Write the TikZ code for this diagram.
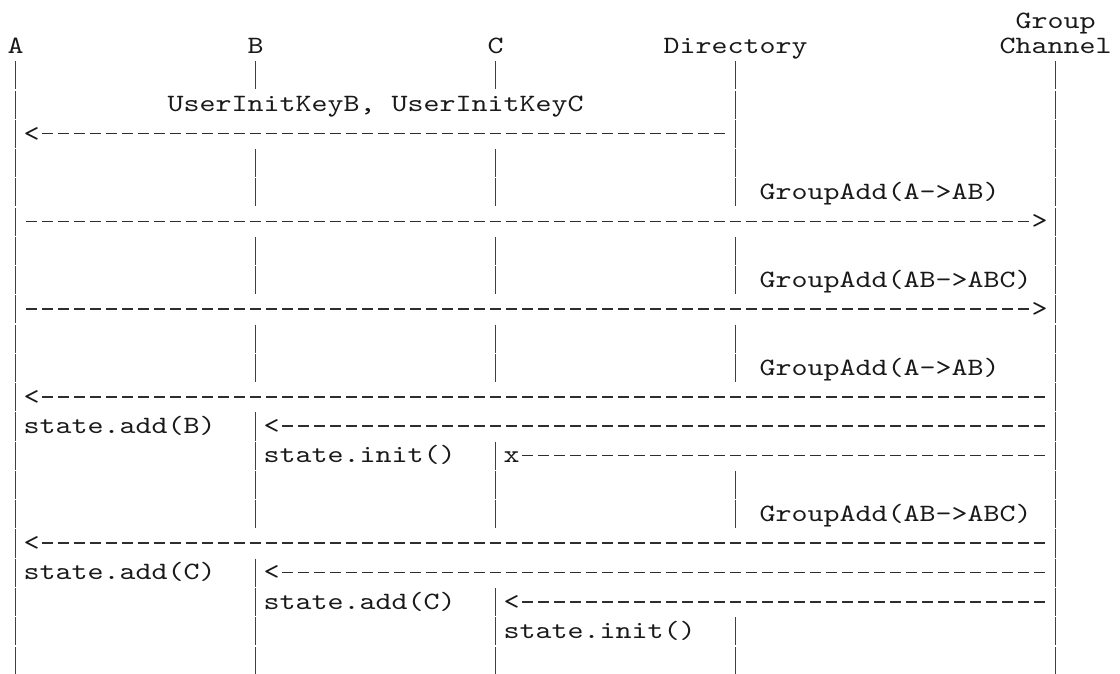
\documentclass[tikz,border=0pt]{standalone}
\usepackage{fontspec}
\newfontfamily\asciifont{lmmono10-regular.otf}[FakeStretch=1.224]
\usetikzlibrary{calc}

% character grid: 16pt per column, 29.26pt per row
\tikzset{
  lbl/.style={inner sep=0pt, outer sep=0pt, anchor=base west,
    font=\asciifont\fontsize{24.9}{29}\selectfont, text=black!90},
  bar/.style={line width=1.5pt, draw=black!75},
  dashrun/.style={line width=1.6pt, draw=black!82, dash pattern=on 10.7pt off 5.3pt},
  msgL/.style={dashrun, shorten <=2.65pt, shorten >=10.65pt},
  msgR/.style={dashrun, shorten <=10.65pt, shorten >=2.65pt},
}
% \cellat{name}{column}{row}{text}
\newcommand\cellat[4]{\node[lbl] (#1) at ({7.7+16*#2},{(#3-1)*29.26+24}) {#4};}
% \msgrow{name}{row}: height of the dashes in a row
\newcommand\msgrow[2]{\coordinate (#1) at (0,{(#2-1)*29.26+16.5});}

\begin{document}
\begin{tikzpicture}[x=1pt,y=-1pt]
\useasboundingbox (0,0) rectangle (1120,673);

% participants
\node[lbl] (grp) at ({7.7+16*63},28.8) {Group};
\cellat{A}{0}{2}{A}
\cellat{B}{15}{2}{B}
\cellat{C}{30}{2}{C}
\cellat{Dir}{41}{2}{Directory}
\cellat{Chan}{62}{2}{Channel}

% lifelines, one segment per text row
\foreach \nd/\rows in {
    A/{3,4,5,6,7,8,9,10,11,12,13,14,15,16,17,18,19,20,21,22,23},
    B/{3,6,7,9,10,12,13,15,16,17,18,20,21,22,23},
    C/{3,6,7,9,10,12,13,16,17,18,21,22,23},
    Dir/{3,4,5,6,7,9,10,12,13,17,18,22,23},
    Chan/{3,4,5,6,7,8,9,10,11,12,13,14,15,16,17,18,19,20,21,22,23}}
  \foreach \r in \rows
    \draw[bar] ($(\nd.base)+(0,{(\r-2)*29.26-21.2})$) -- ($(\nd.base)+(0,{(\r-2)*29.26+6.86})$);

% labels
\cellat{keys}{10}{4}{UserInitKeyB, UserInitKeyC}
\cellat{ga1}{47}{7}{GroupAdd(A->AB)}
\cellat{ga2}{47}{10}{GroupAdd(AB->ABC)}
\cellat{ga3}{47}{13}{GroupAdd(A->AB)}
\cellat{ga4}{47}{18}{GroupAdd(AB->ABC)}
\cellat{sab}{1}{15}{state.add(B)}
\cellat{sib}{16}{16}{state.init()}
\cellat{sac}{1}{20}{state.add(C)}
\cellat{sacb}{16}{21}{state.add(C)}
\cellat{sic}{31}{22}{state.init()}

% message ends
\cellat{t5}{1}{5}{<}
\cellat{t8}{64}{8}{>}
\cellat{t11}{64}{11}{>}
\cellat{t14}{1}{14}{<}
\cellat{t15}{16}{15}{<}
\cellat{t16}{31}{16}{x}
\cellat{t19}{1}{19}{<}
\cellat{t20}{16}{20}{<}
\cellat{t21}{31}{21}{<}

\msgrow{y5}{5}
\msgrow{y8}{8}
\msgrow{y11}{11}
\msgrow{y14}{14}
\msgrow{y15}{15}
\msgrow{y16}{16}
\msgrow{y19}{19}
\msgrow{y20}{20}
\msgrow{y21}{21}

% messages
\draw[msgL] (t5.east |- y5) -- (Dir |- y5);
\draw[msgR] (A |- y8) -- (t8.west |- y8);
\draw[msgR] (A |- y11) -- (t11.west |- y11);
\draw[msgL] (t14.east |- y14) -- (Chan |- y14);
\draw[msgL] (t15.east |- y15) -- (Chan |- y15);
\draw[msgL] (t16.east |- y16) -- (Chan |- y16);
\draw[msgL] (t19.east |- y19) -- (Chan |- y19);
\draw[msgL] (t20.east |- y20) -- (Chan |- y20);
\draw[msgL] (t21.east |- y21) -- (Chan |- y21);
\end{tikzpicture}
\end{document}
